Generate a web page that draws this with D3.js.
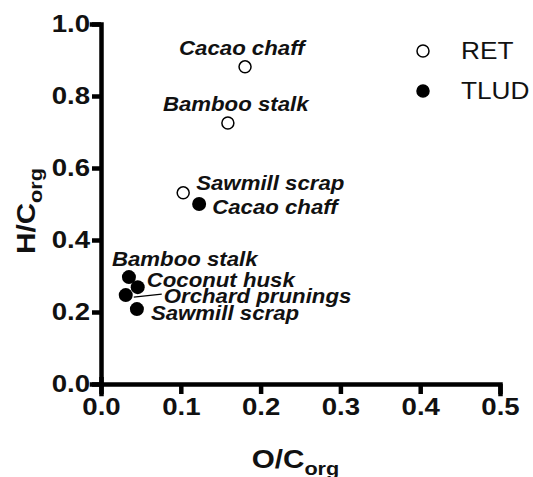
<!DOCTYPE html>
<html>
<head>
<meta charset="utf-8">
<script src="https://cdn.jsdelivr.net/npm/d3@7"></script>
<style>
  body { margin: 0; background: #fff; }
  text { font-family: Arial, "Liberation Sans", sans-serif; }
</style>
</head>
<body>
<svg id="chart" width="533" height="477"></svg>
<script>
// O/C_org and H/C_org ratios
var retNames = ["Cacao chaff", "Bamboo stalk", "Sawmill scrap"];
var retOC = [0.1805, 0.159, 0.103];
var retHC = [0.881, 0.725, 0.531];

var tludNames = ["Cacao chaff", "Bamboo stalk", "Coconut husk", "Orchard prunings", "Sawmill scrap"];
var tludOC = [0.123, 0.035, 0.046, 0.031, 0.045];
var tludHC = [0.500, 0.297, 0.269, 0.247, 0.208];

var xTicks = [0, 0.1, 0.2, 0.3, 0.4, 0.5];
var yTicks = [0, 0.2, 0.4, 0.6, 0.8, 1.0];

// label placement (pixel offsets from the point, text-anchor start)
var retLabelPos = [[-66, -12], [-65, -12], [13, -3]];
var tludLabelPos = [[13, 10], [-17, -11], [9, 0], [38, 8], [14, 11]];

// the lettering in the figure is a bit wider than Arial
var stretch = 1.14;

var svg = d3.select("#chart"),
    margin = {left: 101, top: 24, right: 33, bottom: 93},
    width = +svg.attr("width") - margin.left - margin.right,
    height = +svg.attr("height") - margin.top - margin.bottom;

var x = d3.scaleLinear().domain([0, 0.5]).range([0, width]);
var y = d3.scaleLinear().domain([0, 1.0]).range([height, 0]);

var g = svg.append("g").attr("transform", "translate(" + margin.left + "," + margin.top + ")");

var xAxis = g.append("g")
    .attr("transform", "translate(0," + height + ")")
    .call(d3.axisBottom(x).tickValues(xTicks).tickFormat(d3.format(".1f")).tickSizeOuter(0).tickSize(10).tickPadding(5));
var yAxis = g.append("g")
    .call(d3.axisLeft(y).tickValues(yTicks).tickFormat(d3.format(".1f")).tickSizeOuter(0).tickSize(9).tickPadding(2));

[xAxis, yAxis].forEach(function (a) {
    a.select(".domain").attr("stroke", "#000").attr("stroke-width", 4.5).attr("stroke-linecap", "square");
    a.selectAll(".tick line").attr("stroke", "#000").attr("stroke-width", 4.5);
    a.selectAll(".tick text")
        .attr("fill", "#111")
        .attr("font-family", "Arial, 'Liberation Sans', sans-serif")
        .attr("font-size", 23)
        .attr("font-weight", "bold")
        .attr("transform", "scale(1.2,1)");
});
// keep the y tick labels' right edge next to the ticks after stretching
yAxis.selectAll(".tick text").attr("x", -11 / 1.2);
// the origin tick on the x axis crosses the axis line
xAxis.select(".tick line").attr("y1", -7);

// axis titles
var xt = svg.append("g")
    .attr("transform", "translate(" + (margin.left + width / 2 - 5) + ",468) scale(" + stretch + ",1)")
    .append("text")
    .attr("text-anchor", "middle")
    .attr("font-size", 26)
    .attr("font-weight", "bold")
    .attr("fill", "#111");
xt.append("tspan").text("O/C");
xt.append("tspan").attr("font-size", 19).attr("dy", 7).text("org");

var yt = svg.append("g")
    .attr("transform", "translate(35,211) rotate(-90) scale(" + stretch + ",1)")
    .append("text")
    .attr("text-anchor", "middle")
    .attr("font-size", 26)
    .attr("font-weight", "bold")
    .attr("fill", "#111");
yt.append("tspan").text("H/C");
yt.append("tspan").attr("font-size", 19).attr("dy", 7).text("org");

// leader line for Orchard prunings
var orchard = 3;
g.append("line")
    .attr("x1", x(tludOC[orchard]) + 8)
    .attr("y1", y(tludHC[orchard]) + 2)
    .attr("x2", x(tludOC[orchard]) + 36)
    .attr("y2", y(tludHC[orchard]) - 1)
    .attr("stroke", "#000")
    .attr("stroke-width", 1.2);

// markers
g.selectAll("circle.ret")
    .data(retOC)
    .enter().append("circle")
    .attr("class", "ret")
    .attr("cx", function (d) { return x(d); })
    .attr("cy", function (d, i) { return y(retHC[i]); })
    .attr("r", 6)
    .attr("fill", "#fff")
    .attr("stroke", "#000")
    .attr("stroke-width", 1.5);

g.selectAll("circle.tlud")
    .data(tludOC)
    .enter().append("circle")
    .attr("class", "tlud")
    .attr("cx", function (d) { return x(d); })
    .attr("cy", function (d, i) { return y(tludHC[i]); })
    .attr("r", 7)
    .attr("fill", "#000");

// point labels
function pointLabel(name, px, py) {
    g.append("g")
        .attr("transform", "translate(" + px + "," + py + ") scale(" + stretch + ",1)")
        .append("text")
        .attr("font-size", 19.5)
        .attr("font-weight", "bold")
        .attr("font-style", "italic")
        .attr("fill", "#111")
        .text(name);
}
retNames.forEach(function (n, i) {
    pointLabel(n, x(retOC[i]) + retLabelPos[i][0], y(retHC[i]) + retLabelPos[i][1]);
});
tludNames.forEach(function (n, i) {
    pointLabel(n, x(tludOC[i]) + tludLabelPos[i][0], y(tludHC[i]) + tludLabelPos[i][1]);
});

// legend
var legend = svg.append("g").attr("transform", "translate(423,51)");
[["RET", "#fff"], ["TLUD", "#000"]].forEach(function (d, i) {
    legend.append("circle")
        .attr("cx", 0)
        .attr("cy", i * 40)
        .attr("r", 6)
        .attr("fill", d[1])
        .attr("stroke", "#000")
        .attr("stroke-width", 1.5);
    legend.append("g")
        .attr("transform", "translate(38," + (i * 40 + 8) + ") scale(" + stretch + ",1)")
        .append("text")
        .attr("font-size", 23)
        .attr("fill", "#111")
        .text(d[0]);
});
</script>
</body>
</html>
